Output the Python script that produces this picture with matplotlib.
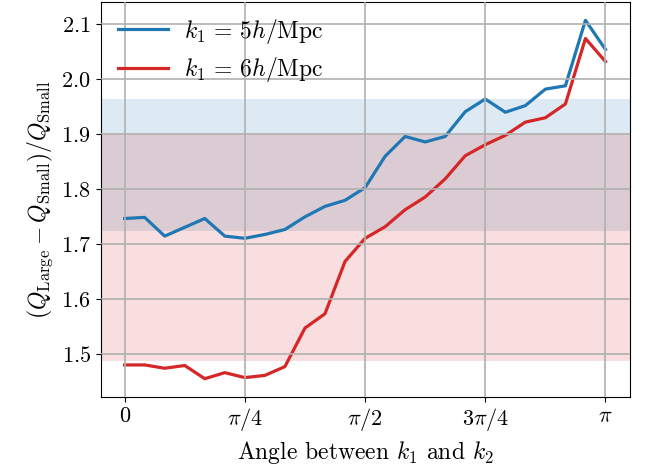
import numpy as np
import matplotlib
matplotlib.use('Agg')
import matplotlib.pyplot as plt

plt.rcParams['font.family'] = 'cmr10'
plt.rcParams['mathtext.fontset'] = 'cm'
plt.rcParams['axes.formatter.use_mathtext'] = True
plt.rcParams['font.size'] = 17

# angle samples: 25 points from 0 to pi
angles = np.linspace(0, np.pi, 25)

ratio_k5 = [1.747, 1.749, 1.715, 1.731, 1.747, 1.715, 1.711, 1.718, 1.727, 1.750,
            1.769, 1.780, 1.803, 1.860, 1.896, 1.886, 1.896, 1.941, 1.964, 1.940,
            1.952, 1.982, 1.988, 2.107, 2.054]
ratio_k6 = [1.481, 1.481, 1.475, 1.480, 1.456, 1.467, 1.458, 1.462, 1.478, 1.548,
            1.574, 1.669, 1.711, 1.732, 1.763, 1.786, 1.819, 1.861, 1.881, 1.898,
            1.922, 1.930, 1.955, 2.074, 2.032]

# shaded ranges (lower, upper)
band_k5 = (1.725, 1.964)
band_k6 = (1.488, 1.901)

xticks = [0, np.pi / 4, np.pi / 2, 3 * np.pi / 4, np.pi]
xticklabels = [r'$0$', r'$\pi/4$', r'$\pi/2$', r'$3\pi/4$', r'$\pi$']

fig, ax = plt.subplots(figsize=(6.49, 4.75), dpi=100)
ax.axhspan(*band_k5, color='tab:blue', alpha=0.15, lw=0)
ax.axhspan(*band_k6, color='tab:red', alpha=0.15, lw=0)
ax.plot(angles, ratio_k5, color='tab:blue', lw=2.3, label=r'$k_1 \,=\, 5h/\mathrm{Mpc}$')
ax.plot(angles, ratio_k6, color='tab:red', lw=2.3, label=r'$k_1 \,=\, 6h/\mathrm{Mpc}$')

ax.set_xticks(xticks)
ax.set_xticklabels(xticklabels)
ax.tick_params(labelsize=16)
ax.set_xlabel(r'Angle between $k_1$ and $k_2$', fontsize=17)
ax.set_ylabel(r'$(Q_\mathrm{Large} - Q_\mathrm{Small})/Q_\mathrm{Small}$', fontsize=17)
ax.grid(True, color='#b0b0b0', lw=1.2)
ax.set_axisbelow(False)
ax.legend(loc='upper left', bbox_to_anchor=(0.006, 1.0), borderaxespad=0.2,
          frameon=False, fontsize=17, handlelength=2.1,
          handletextpad=0.7, labelspacing=0.4)

fig.subplots_adjust(left=0.155, right=0.97, top=0.995, bottom=0.165)
fig.savefig('out.png')
